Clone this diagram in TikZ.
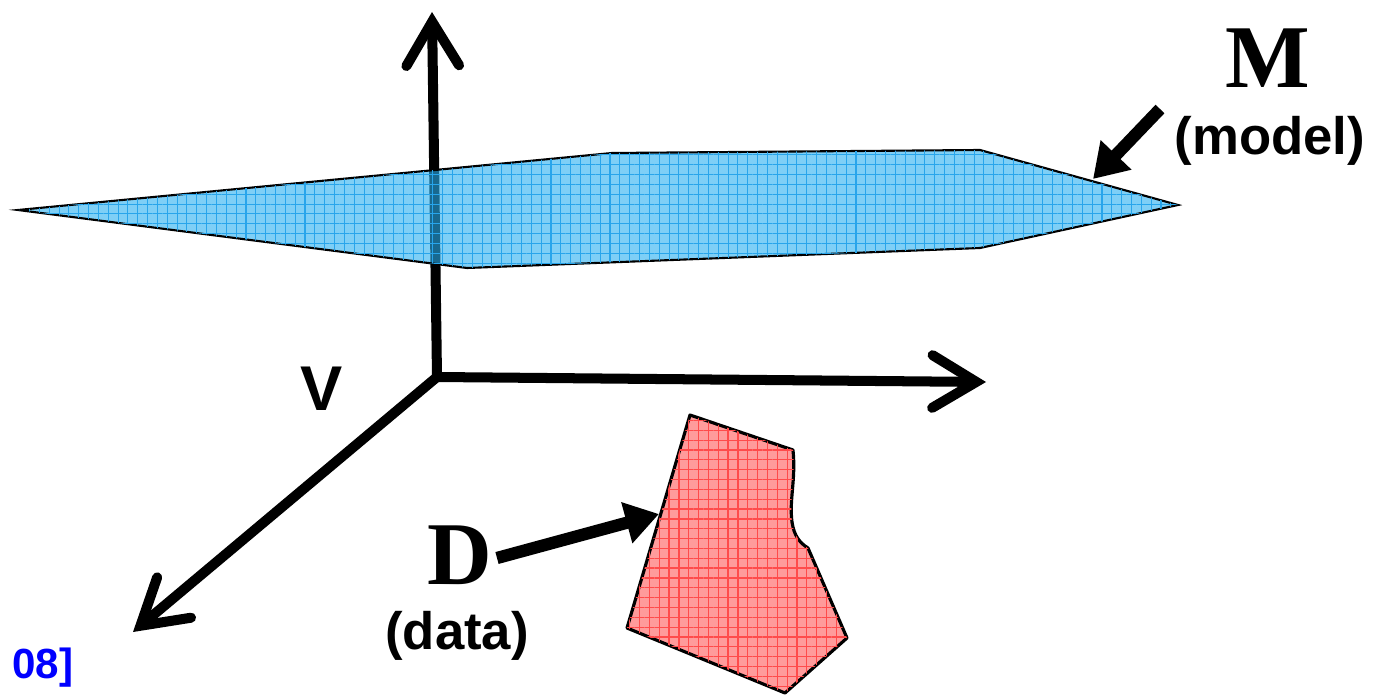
\documentclass[tikz,border=0pt]{standalone}
\usepackage{fontspec}
\setmainfont{Liberation Serif}
\newfontfamily\labelfont{Liberation Sans}
\usetikzlibrary{arrows.meta,patterns.meta}
\definecolor{PlaneBlue}{RGB}{40,175,240}
\definecolor{PlaneGrid}{RGB}{40,165,235}
\definecolor{DataPink}{RGB}{255,155,155}
\definecolor{DataRed}{RGB}{255,75,75}
\definecolor{RefBlue}{RGB}{0,0,255}
\tikzset{
  axis/.style={line width=5.7pt,line cap=round,
    -{Straight Barb[length=25pt,width=30pt,line cap=round,line join=miter]}},
  pointer/.style={line width=7pt,-{Triangle[length=19pt,width=23pt]}},
  modelplane/.style={draw=black,line width=1.2pt,fill=PlaneBlue,fill opacity=0.6,
    postaction={pattern={Hatch[angle=0,distance=5.6pt,line width=0.6pt]},pattern color=PlaneGrid}},
  datapatch/.style={draw=black,line width=1.8pt,fill=DataPink,
    postaction={pattern={Hatch[angle=0,distance=5.6pt,line width=0.7pt]},pattern color=DataRed}},
  biglabel/.style={inner sep=0pt,font=\fontsize{51}{51}\selectfont\bfseries},
  smalllabel/.style={inner sep=0pt,font=\labelfont\fontsize{30}{32}\selectfont\bfseries},
  reflabel/.style={inner sep=0pt,text=RefBlue,font=\labelfont\fontsize{24}{26}\selectfont\bfseries}
}
\begin{document}
\begin{tikzpicture}[x=0.02cm,y=-0.02cm]
  \useasboundingbox (0,0) rectangle (1379,696);
  % axes
  \coordinate (O) at (437,377);
  \coordinate (ytip) at (432,12);
  \coordinate (xtip) at (986,382);
  \coordinate (ztip) at (133,632);
  \draw[axis] (O) -- (ytip);
  \draw[axis] (O) -- (xtip);
  \draw[axis] (O) -- (ztip);
  % model plane
  \draw[modelplane] (18,210) -- (612,153) -- (980,150) -- (1178,205)
    -- (980,248) -- (467,268) -- cycle;
  % data patch
  \draw[datapatch,line join=round] (690,415) -- (793,450)
    .. controls (796,480) and (789,500) .. (792,522)
    .. controls (794,536) and (800,543) .. (808,548)
    -- (847,638) -- (785,693) -- (627,628) -- cycle;
  % labels
  \node[biglabel] (M) at (1268,58) {M};
  \node[smalllabel] (model) at (1270,141) {(model)};
  \node[smalllabel,font=\labelfont\fontsize{36}{38}\selectfont\bfseries] (V) at (322,389) {V};
  \node[biglabel] (D) at (460,555) {D};
  \node[smalllabel] (data) at (457,636) {(data)};
  \node[reflabel] (ref) at (43,668) {08]};
  % pointers
  \coordinate (mtail) at (1160,109);
  \coordinate (mhead) at (1093,179);
  \coordinate (dtail) at (497,558);
  \coordinate (dhead) at (659,514);
  \draw[pointer] (mtail) -- (mhead);
  \draw[pointer] (dtail) -- (dhead);
\end{tikzpicture}
\end{document}
